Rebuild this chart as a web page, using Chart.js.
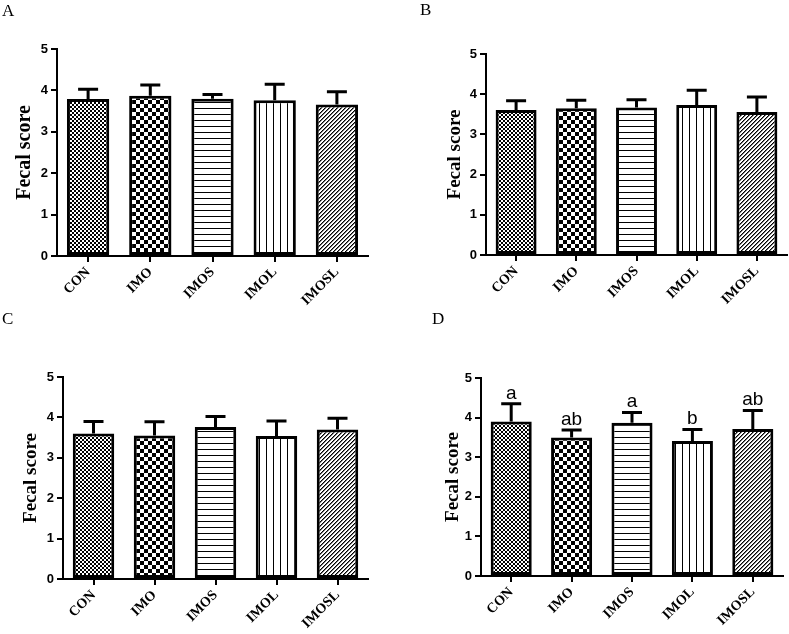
<!DOCTYPE html>
<html lang="en">
<head>
  <meta charset="UTF-8" />
  <title>Fecal score</title>
  <script src="https://cdn.jsdelivr.net/npm/chart.js"></script>
  <style>
    body { margin: 0; background: #fff; }
    #wrap { position: relative; width: 789px; height: 634px; overflow: hidden; }
    canvas { position: absolute; }
    .tag { position: absolute; font-family: "Liberation Serif", "Times New Roman", serif; font-size: 17px; line-height: 1; color: #000; }
  </style>
</head>
<body>
  <div id="wrap">
    <canvas id="chartA" width="394" height="317" style="left:0;top:0"></canvas>
    <canvas id="chartB" width="394" height="317" style="left:395px;top:0"></canvas>
    <canvas id="chartC" width="394" height="317" style="left:0;top:317px"></canvas>
    <canvas id="chartD" width="394" height="317" style="left:395px;top:317px"></canvas>
    <div class="tag" style="left:2px;top:2px">A</div>
    <div class="tag" style="left:420px;top:1px">B</div>
    <div class="tag" style="left:2px;top:310px">C</div>
    <div class="tag" style="left:432px;top:310px">D</div>
  </div>

  <script>
    const groups = ['CON', 'IMO', 'IMOS', 'IMOL', 'IMOSL'];
    const yTicks = [0, 1, 2, 3, 4, 5];

    const meanA = [3.79, 3.87, 3.80, 3.76, 3.66];
    const errA  = [0.24, 0.26, 0.10, 0.39, 0.31];
    const meanB = [3.61, 3.65, 3.67, 3.73, 3.56];
    const errB  = [0.23, 0.20, 0.19, 0.37, 0.37];
    const meanC = [3.60, 3.55, 3.76, 3.54, 3.70];
    const errC  = [0.30, 0.34, 0.26, 0.37, 0.28];
    const meanD = [3.90, 3.50, 3.87, 3.41, 3.71];
    const errD  = [0.45, 0.19, 0.26, 0.29, 0.47];
    const lettersD = ['a', 'ab', 'a', 'b', 'ab'];

    // black/white fill patterns, one per group
    function makeFills(ctx) {
      function tile(w, h, paint) {
        const c = document.createElement('canvas');
        c.width = w; c.height = h;
        const g = c.getContext('2d');
        g.fillStyle = '#fff';
        g.fillRect(0, 0, w, h);
        g.fillStyle = '#000';
        paint(g);
        return ctx.createPattern(c, 'repeat');
      }
      return [
        tile(4, 4, g => { g.fillRect(0, 0, 2, 2); g.fillRect(2, 2, 2, 2); }),
        tile(8, 8, g => { g.fillRect(0, 0, 4, 4); g.fillRect(4, 4, 4, 4); }),
        tile(6, 6, g => { g.fillRect(0, 0, 6, 1); }),
        tile(7, 7, g => { g.fillRect(0, 0, 1, 7); }),
        tile(4, 4, g => {
          for (let x = 0; x < 4; x++) for (let y = 0; y < 4; y++) {
            const k = (x + y) % 4;
            if (k === 0) { g.fillStyle = '#000'; g.fillRect(x, y, 1, 1); }
            if (k === 1) { g.fillStyle = '#777'; g.fillRect(x, y, 1, 1); }
          }
        })
      ];
    }

    const errPlugin = {
      id: 'errBars',
      afterDatasetsDraw(chart) {
        const ds = chart.data.datasets[0];
        const meta = chart.getDatasetMeta(0);
        const y = chart.scales.y;
        const c = chart.ctx;
        c.save();
        c.strokeStyle = '#000';
        c.lineWidth = 3;
        meta.data.forEach((bar, i) => {
          const top = y.getPixelForValue(ds.data[i] + ds.errors[i]);
          c.beginPath();
          c.moveTo(bar.x, bar.y);
          c.lineTo(bar.x, top);
          c.moveTo(bar.x - 10, top);
          c.lineTo(bar.x + 10, top);
          c.stroke();
          if (ds.letters) {
            c.fillStyle = '#000';
            c.font = '19px "Liberation Sans", Arial, sans-serif';
            c.textAlign = 'center';
            c.textBaseline = 'alphabetic';
            c.fillText(ds.letters[i], bar.x, top - 5);
          }
        });
        c.restore();
      }
    };

    function buildChart(id, means, errs, letters, lay) {
      const ctx = document.getElementById(id).getContext('2d');
      return new Chart(ctx, {
        type: 'bar',
        data: {
          labels: groups,
          datasets: [{
            data: means,
            errors: errs,
            letters: letters,
            backgroundColor: makeFills(ctx),
            borderColor: '#000',
            borderWidth: 3,
            borderSkipped: false,
            barPercentage: 0.68,
            categoryPercentage: 1
          }]
        },
        options: {
          responsive: false,
          animation: false,
          layout: { padding: { top: lay.top, right: lay.right, left: 0, bottom: 0 } },
          plugins: { legend: { display: false }, tooltip: { enabled: false } },
          scales: {
            x: {
              grid: { offset: false, drawOnChartArea: false, tickLength: 6, color: '#000', lineWidth: 2 },
              border: { color: '#000', width: 2 },
              ticks: {
                color: '#000',
                font: { family: '"Liberation Serif", "Times New Roman", serif', size: 14, weight: 'bold' },
                maxRotation: 45, minRotation: 45, autoSkip: false, padding: 2
              },
              afterFit: s => { s.height = lay.xh; }
            },
            y: {
              min: 0, max: 5,
              afterBuildTicks: s => { s.ticks = yTicks.map(v => ({ value: v })); },
              grid: { drawOnChartArea: false, tickLength: 6, color: '#000', lineWidth: 2 },
              border: { color: '#000', width: 2 },
              ticks: {
                color: '#000',
                font: { family: '"Liberation Sans", Arial, sans-serif', size: 13, weight: 'bold' },
                padding: 3
              },
              title: {
                display: true,
                text: 'Fecal score',
                color: '#000',
                font: { family: '"Liberation Serif", "Times New Roman", serif', size: lay.tsize, weight: 'bold' },
                padding: { top: lay.tpad, bottom: 0 }
              },
              afterFit: s => { s.width = lay.yw; }
            }
          }
        },
        plugins: [errPlugin]
      });
    }

    buildChart('chartA', meanA, errA, null, { top: 49, right: 26, xh: 61, yw: 57, tsize: 20, tpad: 12.5 });
    buildChart('chartB', meanB, errB, null, { top: 54, right: 2, xh: 62, yw: 91, tsize: 19, tpad: 48.5 });
    buildChart('chartC', meanC, errC, null, { top: 60, right: 26, xh: 55, yw: 63, tsize: 19, tpad: 19.5 });
    buildChart('chartD', meanD, errD, lettersD, { top: 61, right: 6, xh: 58, yw: 86, tsize: 19, tpad: 47 });
  </script>
</body>
</html>
